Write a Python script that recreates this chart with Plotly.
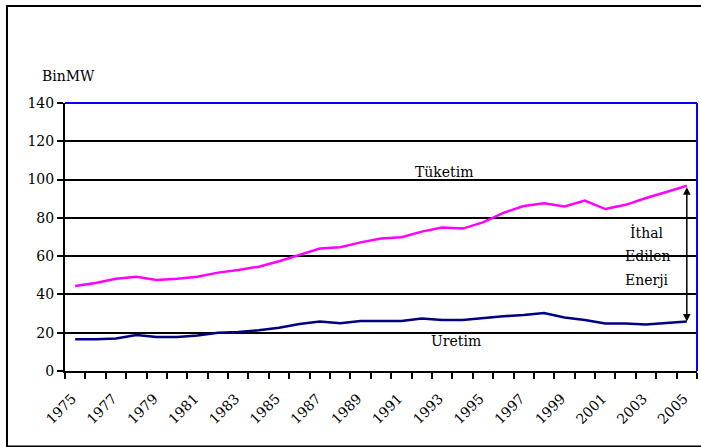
import plotly.graph_objects as go

# Yıllar ve seriler (Bin MW)
years = list(range(1975, 2006))
tuketim = [44.4, 46.0, 48.2, 49.2, 47.6, 48.2, 49.2, 51.4, 52.8, 54.5, 57.3, 60.6,
           64.0, 64.7, 67.2, 69.2, 69.9, 72.8, 75.0, 74.4, 77.6, 82.6, 86.2, 87.6,
           86.0, 89.0, 84.6, 86.8, 90.4, 93.5, 96.8]
uretim = [16.6, 16.6, 17.0, 18.8, 17.8, 17.8, 18.6, 20.0, 20.4, 21.3, 22.6, 24.6,
          25.8, 24.9, 26.1, 26.2, 26.1, 27.4, 26.6, 26.6, 27.7, 28.6, 29.2, 30.3,
          28.0, 26.6, 24.8, 24.8, 24.3, 25.2, 25.8]
year_labels = list(range(1975, 2006, 2))
y_ticks = [0, 20, 40, 60, 80, 100, 120, 140]
gap_text = ["İthal", "Edilen", "Enerji"]

SERIF = "DejaVu Serif"
FS = 14

fig = go.Figure()
fig.add_trace(go.Scatter(x=years, y=tuketim, mode="lines", name="Tüketim",
                         line=dict(color="#FF00FF", width=2.5)))
fig.add_trace(go.Scatter(x=years, y=uretim, mode="lines", name="Üretim",
                         line=dict(color="#000080", width=2.5)))

fig.update_layout(
    width=701, height=447,
    margin=dict(l=65, r=4, t=103, b=76),
    paper_bgcolor="white", plot_bgcolor="white",
    showlegend=False,
    font=dict(family=SERIF, size=FS, color="black"),
    xaxis=dict(
        range=[1974.5, 2005.5],
        tickmode="array", tickvals=year_labels,
        ticktext=[str(y) for y in year_labels],
        ticks="", tickangle=-45, ticklabelstandoff=12, ticklabelshift=-3,
        showgrid=False, zeroline=False,
        showline=True, linecolor="black", linewidth=2,
        tickfont=dict(family=SERIF, size=FS),
        minor=dict(tickmode="array",
                   tickvals=[y - 0.5 for y in years] + [years[-1] + 0.5],
                   ticks="outside", ticklen=6, tickwidth=2, tickcolor="black",
                   showgrid=False),
    ),
    yaxis=dict(
        range=[0, 140],
        tickmode="array", tickvals=y_ticks,
        ticks="outside", ticklen=6, tickwidth=2, tickcolor="black",
        showgrid=True, gridcolor="black", gridwidth=1.5,
        zeroline=False,
        showline=True, linecolor="black", linewidth=2,
        tickfont=dict(family=SERIF, size=FS),
    ),
)

# Mavi çerçeve: üst ve sağ kenar
fig.add_shape(type="line", xref="paper", yref="paper", x0=0, x1=1, y0=1, y1=1,
              line=dict(color="#0000FF", width=2))
fig.add_shape(type="line", xref="paper", yref="paper", x0=1, x1=1, y0=0, y1=1,
              line=dict(color="#0000FF", width=2))

# Dış çerçeve
fig.add_shape(type="rect", xref="paper", yref="paper",
              x0=-0.0918, x1=1.02, y0=-0.2813, y1=1.3617,
              line=dict(color="black", width=2), layer="below")

# Eksen birimi
fig.add_annotation(text="BinMW", xref="paper", yref="paper", x=-0.0396, y=1.1,
                   xanchor="left", yanchor="middle", showarrow=False,
                   font=dict(family=SERIF, size=FS))

# Seri etiketleri
fig.add_annotation(text="Tüketim", x=1993.1, y=104.2, showarrow=False,
                   font=dict(family=SERIF, size=FS))
fig.add_annotation(text="Üretim", x=1993.7, y=16.1, showarrow=False,
                   font=dict(family=SERIF, size=FS))

# İthal edilen enerji: iki seri arasındaki fark
for i, line in enumerate(gap_text):
    fig.add_annotation(text=line, x=2003.05, y=72.2 - i * 12.3, showarrow=False,
                       font=dict(family=SERIF, size=FS))
fig.add_annotation(x=years[-1], y=uretim[-1], ax=years[-1], ay=tuketim[-1],
                   xref="x", yref="y", axref="x", ayref="y", text="",
                   showarrow=True, arrowside="end+start", arrowhead=2,
                   startarrowhead=2, arrowsize=1, arrowwidth=1.5,
                   arrowcolor="black")

fig.write_html("out.html")
